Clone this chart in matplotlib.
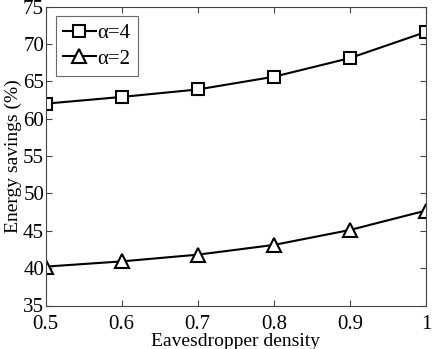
import matplotlib
matplotlib.use("Agg")
import matplotlib.pyplot as plt

density = [0.5, 0.6, 0.7, 0.8, 0.9, 1.0]
savings_a4 = [62.0, 62.9, 63.9, 65.6, 68.1, 71.6]
savings_a2 = [40.2, 40.9, 41.8, 43.1, 45.1, 47.7]

x_ticks = [0.5, 0.6, 0.7, 0.8, 0.9, 1.0]
x_tick_labels = ["0.5", "0.6", "0.7", "0.8", "0.9", "1"]
y_ticks = [35, 40, 45, 50, 55, 60, 65, 70, 75]

plt.rcParams["font.family"] = ["Liberation Serif", "DejaVu Serif"]

fig = plt.figure(figsize=(4.36, 3.49), dpi=100)
ax = fig.add_axes([45.5 / 436, 1 - 305.5 / 349, 380.5 / 436, 299 / 349])

ax.plot(density, savings_a4, color="black", linewidth=1.5,
        marker="s", markersize=8, markerfacecolor="white",
        markeredgecolor="black", markeredgewidth=1.5, label="α=4")
ax.plot(density, savings_a2, color="black", linewidth=1.5,
        marker="^", markersize=10, markerfacecolor="white",
        markeredgecolor="black", markeredgewidth=1.5, label="α=2")

ax.set_xlim(0.5, 1.0)
ax.set_ylim(35, 75)
ax.set_xticks(x_ticks)
ax.set_xticklabels(x_tick_labels)
ax.set_yticks(y_ticks)

ax.tick_params(direction="in", top=True, right=True, length=4,
               labelsize=15, width=0.8, color="#444444")
ax.tick_params(axis="x", pad=7)
ax.tick_params(axis="y", pad=1)
for spine in ax.spines.values():
    spine.set_color("#444444")
    spine.set_linewidth(0.8)

ax.set_xlabel("Eavesdropper density", fontsize=14, labelpad=-1)
ax.set_ylabel("Energy savings (%)", fontsize=14, labelpad=1)

leg = ax.legend(loc="upper left", fontsize=15, frameon=True, fancybox=False,
                edgecolor="#444444", handlelength=1.55, handletextpad=0.1,
                borderpad=0.35, labelspacing=0.3, borderaxespad=0,
                bbox_to_anchor=((56 - 45.5) / 380.5, (305.5 - 16) / 299))
leg.get_frame().set_linewidth(0.8)

fig.savefig("out.png", dpi=100)
